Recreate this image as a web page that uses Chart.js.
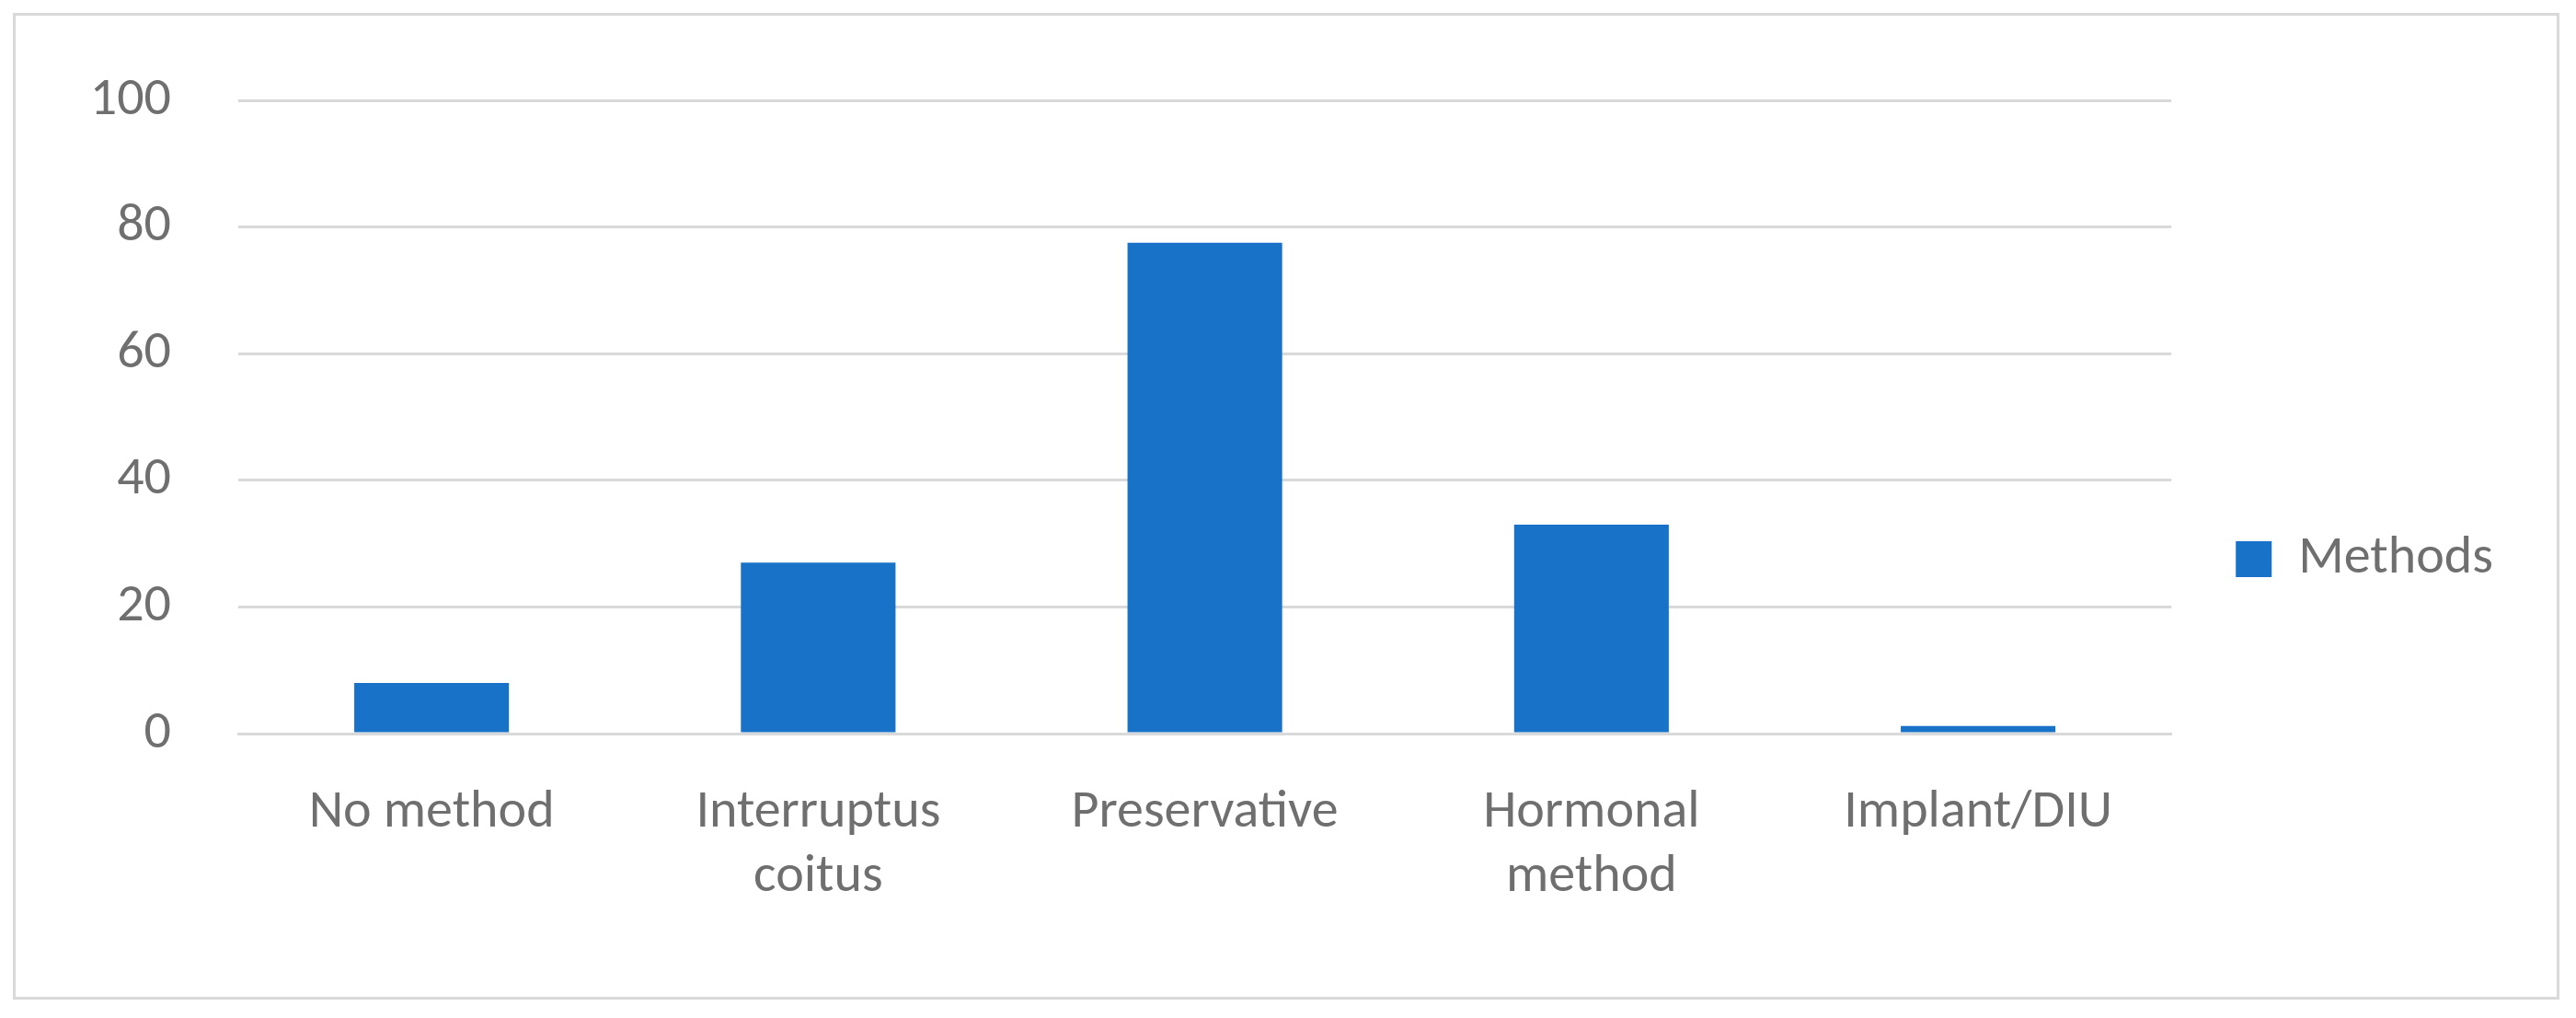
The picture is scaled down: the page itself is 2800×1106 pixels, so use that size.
<!DOCTYPE html>
<html>
<head>
<meta charset="utf-8">
<script src="https://cdn.jsdelivr.net/npm/chart.js@4/dist/chart.umd.min.js"></script>
<style>
  html, body { margin: 0; padding: 0; background: #fff; }
  #frame { position: absolute; left: 14px; top: 14px; width: 2762px; height: 1066px; border: 3px solid #d9d9d9; }
  #wrap { position: absolute; left: 0; top: 0; width: 2800px; height: 1106px; }
</style>
</head>
<body>
<div id="frame"></div>
<div id="wrap"><canvas id="chart"></canvas></div>
<script>
// contraceptive methods bar chart
const categories = [["No method"], ["Interruptus", "coitus"], ["Preservative"], ["Hormonal", "method"], ["Implant/DIU"]];
const methodValues = [8, 27, 77.5, 33, 1.2];
const yTicks = [0, 20, 40, 60, 80, 100];

const font = { family: "Calibri, Carlito, 'Open Sans', 'Liberation Sans', sans-serif", size: 58 };

new Chart(document.getElementById("chart"), {
  type: "bar",
  data: {
    labels: categories,
    datasets: [{ label: "Methods", data: methodValues, backgroundColor: "#1872c8", barPercentage: 0.4, categoryPercentage: 1 }],
  },
  options: {
    responsive: true,
    maintainAspectRatio: false,
    animation: false,
    layout: { padding: { left: 0, right: 80, top: 109, bottom: 0 } },
    plugins: {
      legend: {
        position: "right",
        labels: { font, color: "#6f6f6f", boxWidth: 39, boxHeight: 39, padding: 70 },
      },
      tooltip: { enabled: false },
    },
    scales: {
      x: {
        grid: { display: false },
        border: { color: "#d9d9d9", width: 3 },
        ticks: { font, color: "#6f6f6f", padding: 44, maxRotation: 0, autoSkip: false },
        afterFit: (scale) => { scale.height = 309; },
      },
      y: {
        min: 0,
        max: 100,
        afterBuildTicks: (scale) => { scale.ticks = yTicks.map((v) => ({ value: v })); },
        grid: { color: "#d9d9d9", lineWidth: 3, drawTicks: false },
        border: { display: false },
        ticks: { font, color: "#6f6f6f", padding: 73 },
        afterFit: (scale) => { scale.width = 259; },
      },
    },
  },
});
</script>
</body>
</html>
